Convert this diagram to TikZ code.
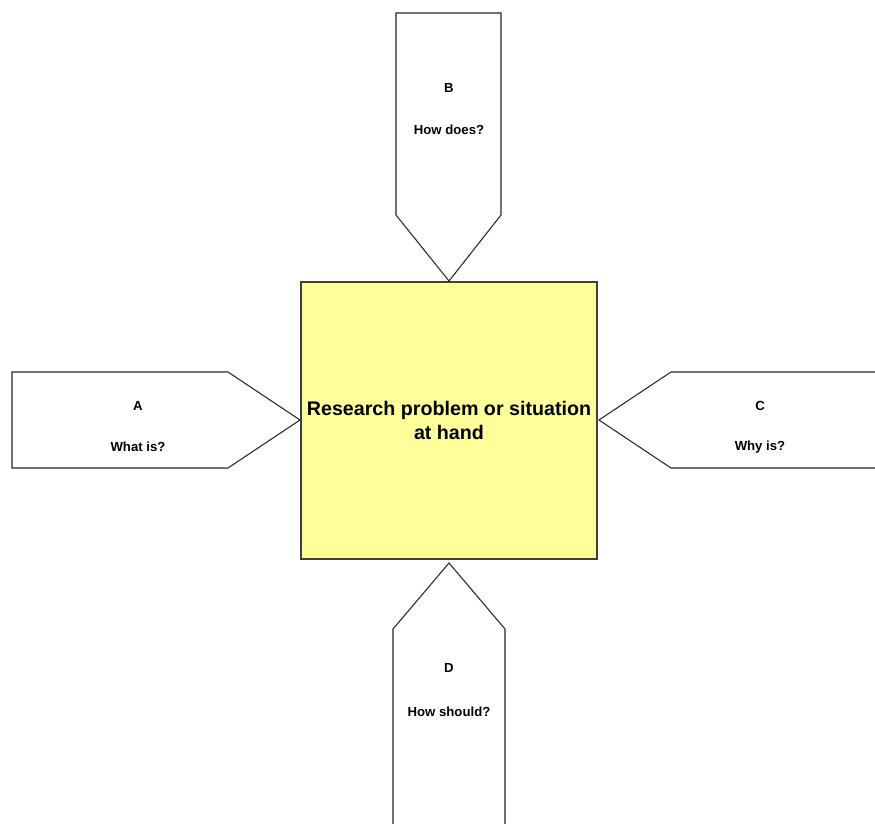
\documentclass[tikz,border=0pt]{standalone}
\usepackage{fontspec}
\setmainfont{Liberation Sans}
\definecolor{notepad}{HTML}{FFFF99}
\begin{document}
\begin{tikzpicture}[x=0.02cm,y=-0.02cm]
    \tikzstyle{arrowbox}=[draw=black!85, line width=0.6pt, fill=white, line join=miter]
    \tikzstyle{label}=[font=\fontsize{7.5}{9}\selectfont\bfseries, align=center]
    \useasboundingbox (0,0) rectangle (875,824);
    % centre square
    \node[draw=black!75, fill=notepad, line width=0.6pt, minimum width=296*0.02cm, minimum height=277*0.02cm,
          font=\fontsize{11.2}{14}\selectfont\bfseries, align=center, inner sep=0pt] (prob) at (449,420.5)
          {Research problem or situation\\at hand};
    % the four pointers
    \filldraw[arrowbox] (396,13) -- (501,13) -- (501,215) -- (449,281) -- (396,215) -- cycle;
    \filldraw[arrowbox] (12,372) -- (228,372) -- (300,420) -- (228,468) -- (12,468) -- cycle;
    \filldraw[arrowbox] (876,372) -- (671,372) -- (599,420) -- (671,468) -- (876,468);
    \filldraw[arrowbox] (393,825) -- (393,629) -- (449,563) -- (505,629) -- (505,825);
    \node[label] (lb) at (449,88)  {B};
    \node[label] (qb) at (449,130) {How does?};
    \node[label] (la) at (138,406) {A};
    \node[label] (qa) at (138,447) {What is?};
    \node[label] (lc) at (760,406) {C};
    \node[label] (qc) at (760,447) {Why is?};
    \node[label] (ld) at (449,668) {D};
    \node[label] (qd) at (449,712) {How should?};

\end{tikzpicture}
\end{document}
